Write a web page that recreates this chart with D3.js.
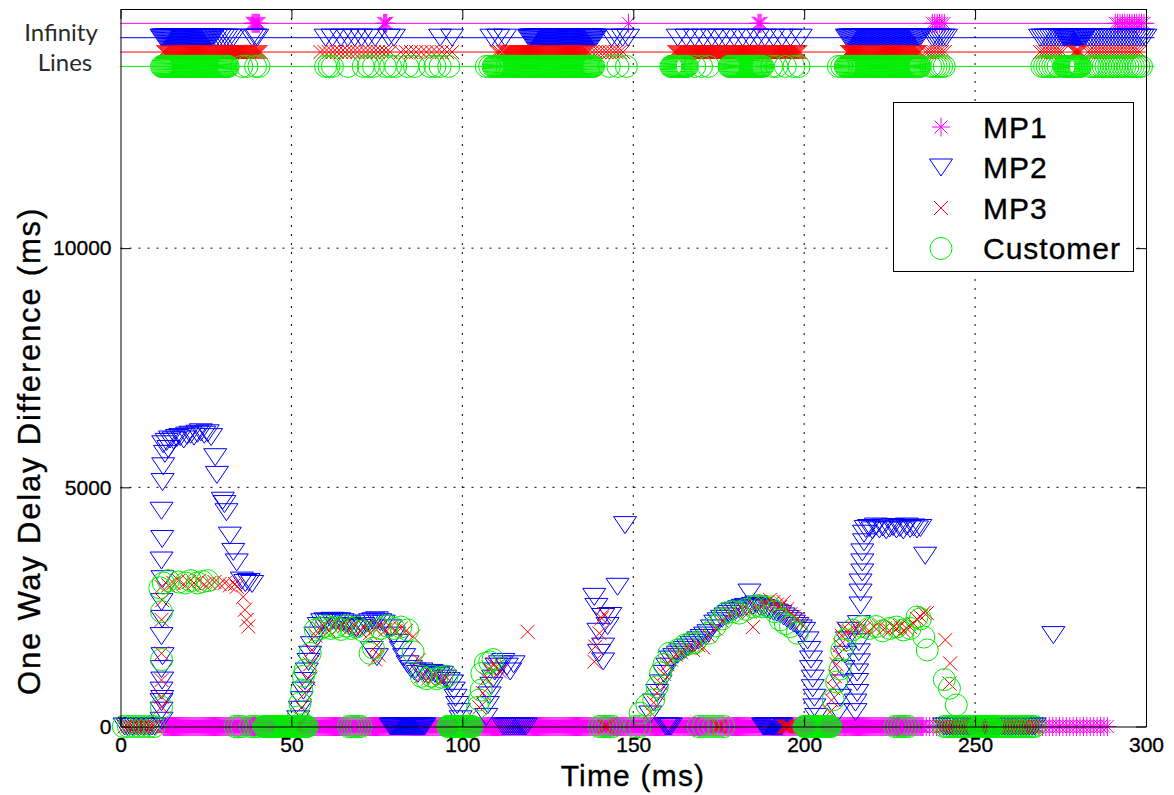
<!DOCTYPE html>
<meta charset="utf-8">
<head>
<style>
 body { margin: 0; background: #fff; }
 svg text { font-family: "Liberation Sans", Arial, sans-serif; fill: #000; }
 .heavy { stroke: #000; stroke-width: 0.35px; }
 .inf-label { font-family: Lato, "Open Sans", sans-serif; font-size: 24px; fill: #2a2a2a; }
 .grid line { stroke: #000; stroke-dasharray: 2,7; }
</style>
</head>
<body>
<div id="chart"></div>
</body>
<script src="https://d3js.org/d3.v7.min.js"></script>
<script>

 // ---- data ----
 const seriesNames = ["MP1", "MP2", "MP3", "Customer"];
 const seriesColors = ["#ff00ff", "#0000ff", "#ff0000", "#00ee00"];
 // where the lost (infinite) samples are drawn, one level per series
 const infinityLevels = [14700, 14400, 14100, 13800];
 const xTicks = [0, 50, 100, 150, 200, 250, 300];
 const yTicks = [0, 5000, 10000];

 // runs of samples: [start, end, sample step] in ms, or a single sample time
 const mp1InfRuns = [[38.5, 40.8, 0.3], [77, 78, 0.3], 148.6, [186.5, 187.5, 0.3], [237.5, 241.5, 0.7], [291, 299.5, 0.7]];
 const mp1ZeroRuns = [[12.5, 235, 0.3], [235.7, 289, 1]];
 const mp1Points = [];

 const mp2InfRuns = [[12, 27, 0.3], [28, 33, 1], 38.5, 39.5, 40,
     60, 62, 64.5, 66.5, 68.5, 70.5, 72.5, 74.5, 78.5, 80, 93.5, 97,
     108.5, 110.5, 112.5, [119.5, 139, 0.3], [143.7, 148.7, 1.6],
     163, 165.5, 168, 170.5, 173, 175, 177, 179.5, 182, 184, 186.5, 188.5, 191, 193.5, 196, 199,
     [212.5, 234, 0.35], [237.5, 241.7, 0.8], [269, 275.5, 0.8], [276, 282, 0.3], [283, 300, 0.8]];
 const mp2ZeroRuns = [[1.2, 10.5, 0.8], [79, 89, 0.3], [112, 119, 0.6], [159.5, 161, 0.5], [188, 193.5, 0.3], [241, 268, 0.8]];
 const mp2Points = [
     [12, 120], [12, 330], [12, 510], [12.2, 575], [12, 750], [12.2, 960], [12, 1200], [12.3, 1470], [12, 1890],
     [12.2, 2250], [12, 2600], [12.3, 3080], [12, 3470], [12.2, 3920], [12, 4510], [12.3, 5110], [12.5, 5440], [13, 5700], [14, 5800],
     [12.5, 5900], [13.5, 5950], [14.5, 6000], [15.5, 5980], [16.5, 6030], [17.5, 6050], [18.5, 6000], [19.5, 6080],
     [20.5, 6100], [21.5, 6060], [22.5, 6120], [23.5, 6150], [24.5, 6100], [25.5, 6130], [26.5, 6050],
     [27.7, 5630], [28.2, 5260], [29.9, 4720], [30.4, 4650], [31, 4480], [32, 3990], [33, 3650], [34, 3430],
     [35.5, 3050], [36.5, 3000], [37.5, 3020], [38.5, 2980],
     [52, 150], [52.5, 350], [53, 550], [53.5, 750], [54, 950], [54.5, 1150], [55, 1350], [55.5, 1500], [56, 1700], [57, 1900], [58, 2100],
     [59, 2180], [60, 2200], [61, 2170], [62, 2210], [63, 2190], [64, 2200], [65, 2180], [66, 2150], [67, 2100], [68, 2080],
     [69, 2050], [70, 2060], [71, 2100], [72, 2150], [73, 2180], [74, 2200], [75, 2220], [76, 2180], [77, 2150], [73.5, 1600], [75, 1450],
     [79, 2050], [80, 1900], [81, 1750], [82, 1600], [83, 1450], [84, 1300], [85, 1200], [86, 1150], [87, 1100], [88, 1150],
     [89, 1100], [90, 1080], [91, 1120], [92, 1100], [93, 1050], [94, 1080], [95, 1000], [96, 950], [97, 900], [97.5, 750],
     [98, 600], [98.5, 450], [99, 300], [99.5, 150],
     [107, 200], [107.5, 450], [108, 650], [108.5, 850], [109, 1000], [109.5, 1150], [110, 1250], [111, 1300], [112, 1350], [113, 1250], [114, 1150], [115, 1300],
     [138.6, 2710], [139.2, 2500], [139.8, 1980], [140, 1540], [141.2, 2290], [141.2, 1670], [141.2, 1360], [142.5, 2100], [143.3, 2310], [145.4, 2920], [147.6, 4210],
     [155, 250], [156, 500], [157, 700], [158, 900], [159, 1100], [160, 1250], [161, 1400], [162, 1450], [163, 1500], [164, 1550],
     [165, 1600], [166, 1650], [167, 1700], [168, 1750], [169, 1800], [170, 1850], [171, 1900], [172, 1950], [173, 2050], [174, 2150],
     [175, 2200], [176, 2250], [177, 2300], [178, 2350], [179, 2400], [180, 2420], [181, 2450], [182, 2480], [183, 2500], [184, 2800],
     [185, 2520], [186, 2550], [187, 2500], [188, 2480], [189, 2450], [190, 2420], [191, 2400], [192, 2380], [193, 2350], [194, 2300],
     [195, 2250], [196, 2200], [197, 2150], [198, 2100], [199, 2050], [200, 2000], [201, 1800], [201.5, 1600], [202, 1400], [202, 1200],
     [202.5, 1000], [202.5, 800], [203, 600], [203, 400], [203.5, 200],
     [210, 300], [210.5, 600], [211, 900], [211.5, 1200], [212, 1500], [212.5, 1800], [213, 2000],
     [215, 300], [215, 500], [215.5, 700], [215.5, 930], [215.5, 1130], [216, 1340], [216, 1550], [216, 1760], [216, 2140],
     [216.5, 2530], [216.5, 2800], [216.5, 3010], [217, 3220], [217, 3430], [217, 3640], [217.5, 3850], [217.5, 4030], [218, 4130],
     [219, 4150], [220, 4100], [221, 4180], [222, 4120], [223, 4160], [224, 4100], [225, 4140], [226, 4170], [227, 4120],
     [228, 4150], [229, 4100], [230, 4180], [231, 4130], [232, 4160], [233, 4120], [234, 4150], [235.4, 3570],
     [272.9, 1910]
 ];

 const mp3InfRuns = [[12.5, 41, 0.3], [58.5, 80, 1.2], [82, 97, 1.5], [110, 111, 0.5], [112, 137, 0.3], [138, 147.5, 1],
     [162, 199, 0.3], [212.5, 234, 0.3], [235.5, 241.5, 0.8], [269, 275.5, 0.8], [279, 281, 0.3], [283, 298.4, 0.8]];
 const mp3ZeroRuns = [[1.2, 10.5, 0.8], [51, 52, 0.5], [141.5, 142.5, 0.5], [174.5, 175.5, 0.5], [194, 196, 0.3], [240, 268, 0.8]];
 const mp3Points = [
     [12, 410], [12, 620], [12, 970], [12, 1530], [12, 2230], [12.2, 2640], [12, 2920],
     [14, 2950], [15.5, 3000], [17, 3050], [18.5, 2980], [20, 3020], [21.5, 3000], [23, 3050], [24.5, 2970], [26, 3000],
     [27.5, 3020], [29, 2980], [30.5, 3000], [32, 2950], [33.5, 2980], [34, 2920], [35.9, 2710], [36.4, 2440], [36.9, 2230], [37.4, 2090],
     [53, 400], [54, 700], [55, 1000], [55.5, 1300], [56, 1600], [57, 1900],
     [58, 2050], [59.5, 2100], [61, 2000], [62.5, 2150], [64, 2080], [65.5, 2100], [67, 2050], [68.5, 2120], [70, 2000],
     [71.5, 2080], [73, 1950], [74.5, 2050], [76, 2100], [77.5, 2020], [79, 2080], [80.5, 2000], [82, 2050], [83.5, 2000],
     [74.5, 1400], [75, 1700], [75.5, 1500], [85.6, 1880], [87.2, 1390],
     [88, 1050], [90, 1000], [92, 1050], [94, 980], [95.5, 1020],
     [105, 400], [106, 700], [107, 1000], [108, 1200], [109, 1300], [110, 1250], [111, 1150],
     [119.1, 1980],
     [138.6, 1355], [138.9, 1670], [140.1, 1950], [140.8, 2260], [141.5, 2350],
     [155, 300], [156, 500], [157, 700], [158, 900], [159, 1100], [160, 1300], [161, 1400], [162.5, 1500], [164, 1550],
     [166, 1650], [167.5, 1600], [169, 1700], [170.5, 1650], [172, 1900], [174, 2050], [176, 2200], [178, 2350], [180, 2400],
     [182, 2450], [184, 2400], [185, 2080], [186, 2500], [188, 2550], [189, 2600], [190, 2650], [191, 2600], [192, 2550],
     [193, 2500], [194, 2600], [195, 2450], [196, 2350], [197, 2300], [198, 2250], [199, 2150],
     [207.5, 300], [208, 550], [208.5, 800], [209, 1050], [209.5, 1300], [210, 1500], [210.5, 1700], [211, 1900], [211.5, 2050],
     [213, 2000], [214.5, 2050], [216, 2100], [217.5, 2050], [219, 2000], [220.5, 2080], [222, 2100], [223.5, 2050], [225, 2000],
     [226, 2080], [227, 2050], [228, 2100], [229, 2000], [230, 2050], [231, 2080], [232, 2150], [233, 2250], [234, 2300],
     [235, 2380], [235.9, 2370], [241.3, 1810], [242.5, 900], [242.7, 1320]
 ];

 const custInfRuns = [[12, 31.6, 0.3], 35.5, 37, 39.5, 40.5,
     60, 61, 62, 66.5, 71, 72.5, 74, 77.5, 79, 80.5, 84, 86, 90.5, 92, 93.5, 96,
     107, 108, [109, 138.5, 0.3], 143, 145.5, 148,
     [161, 166, 0.3], 168, 170, 172, [178, 188, 0.3], 190.5, 192, 194.5, 197, 198.5,
     210, 211, [212, 234, 0.3], [237, 241.5, 0.8], [269.5, 275, 0.8], [276, 281, 0.3], [283.5, 299, 0.8]];
 const custZeroRuns = [[0.8, 11, 1.5], 33.5, 34.5, 35.5, 38, 39, 40, [42, 54.6, 0.3], [66.7, 71.1, 0.9], [95.7, 103, 0.3],
     140, 141, 142, 143, 144, 150.5, 152, 169, 170.5, 172, 173.5, 175, 176.5, [200, 208, 0.3],
     226.5, 227.5, 228.5, 229.5, 230.5, [241, 268, 0.8], [251, 255, 0.3]];
 const custPoints = [
     [12, 400], [12, 1400], [12, 2400], [11.5, 2900], [12.5, 3000], [14, 3050], [17, 3020], [19, 3000], [20.5, 3050],
     [22.5, 3000], [24, 3030], [25.5, 3050],
     [52, 200], [52.5, 485], [53, 760], [53.5, 1050], [54, 1180], [55.5, 1530], [57, 2020], [58.5, 2050], [60, 2100],
     [61.5, 2050], [63, 2080], [64.5, 2030], [66, 2100], [67.5, 2050], [69, 2080], [71, 2000], [73, 1530], [74, 1640],
     [76, 2050], [78, 2100], [80, 2050], [82, 2080], [84, 2020], [85.6, 1560], [88, 1050], [89.5, 1000], [91, 1050],
     [92.5, 1000], [94, 1030], [95.5, 1050], [104.5, 400], [105, 555], [105.5, 760], [105.7, 1110], [106.7, 1320], [108, 1350], [109, 1400],
     [152, 280], [154, 450], [156, 560], [157, 830], [158, 1120], [159, 1300], [160.5, 1530], [163, 1600], [165, 1700],
     [166.7, 1740], [168, 1750], [172, 1950], [174, 2100], [176, 2250], [177, 2370], [179, 2400], [181, 2370], [183, 2450],
     [185, 2500], [186.5, 2530], [188, 2500], [190, 2500], [191.5, 2400], [193, 2230], [194.5, 2150], [196, 2090], [198, 1950],
     [208.5, 560], [209.5, 930], [210.5, 1200], [211, 1600], [212, 1810], [214, 2020], [217, 2090], [219, 2050], [221, 2090],
     [223, 2000], [225, 2050], [227, 2080], [229, 2020], [231, 2050], [233, 2290], [234, 2250], [235, 1870], [236, 1600],
     [241, 980], [242.5, 800], [244.5, 450]
 ];

 // ---- drawing ----
 const width = 1174, height = 795;

 const x = d3.scaleLinear().domain([0, 300]).range([120.5, 1146]);
 const y = d3.scaleLinear().domain([0, 15000]).range([726.5, 9]);

 const markerPaths = {
     star: "M-9,0H9M0,-9.5V9.5M-6.5,-6.5L6.5,6.5M-6.5,6.5L6.5,-6.5",
     triangle: "M-11.5,-8.5H11.5L0,8.5Z",
     cross: "M-7,-7L7,7M-7,7L7,-7"
 };
 const shapes = ["star", "triangle", "cross", "circle"];

 function sampleTimes(runs) {
     return runs.flatMap(r => Array.isArray(r) ? d3.range(r[0], r[1] + 1e-6, r[2]) : [r]);
 }

 const seriesData = [
     [mp1InfRuns, mp1ZeroRuns, mp1Points],
     [mp2InfRuns, mp2ZeroRuns, mp2Points],
     [mp3InfRuns, mp3ZeroRuns, mp3Points],
     [custInfRuns, custZeroRuns, custPoints]
 ].map(([inf, zero, pts], i) => ({
     name: seriesNames[i],
     color: seriesColors[i],
     shape: shapes[i],
     level: infinityLevels[i],
     values: sampleTimes(zero).map(t => [t, 0])
         .concat(pts)
         .concat(sampleTimes(inf).map(t => [t, Infinity]))
 }));

 const svg = d3.select("#chart").append("svg")
     .attr("width", width)
     .attr("height", height);

 // infinity lines
 svg.append("g")
    .selectAll("line")
    .data(seriesData)
    .join("line")
    .attr("x1", x(0))
    .attr("x2", (d, i) => i == 2 ? x(300) : x(302.5))
    .attr("y1", d => y(d.level))
    .attr("y2", d => y(d.level))
    .attr("stroke", d => d.color)
    .attr("stroke-width", 1);

 function drawMarker(sel, s) {
     if (s.shape == "circle") {
         sel.append("circle").attr("r", 11)
            .attr("fill", "none").attr("stroke", s.color);
     } else {
         sel.append("path").attr("d", markerPaths[s.shape])
            .attr("fill", "none").attr("stroke", s.color);
     }
 }

 seriesData.forEach(s => {
     const g = svg.append("g").attr("class", "series");
     g.selectAll("g")
      .data(s.values)
      .join("g")
      .attr("transform", d => `translate(${x(d[0])},${d[1] === Infinity ? y(s.level) : y(d[1])})`)
      .each(function() { drawMarker(d3.select(this), s); });
 });

 // grid
 const grid = svg.append("g").attr("class", "grid");
 grid.selectAll(".gx")
     .data(xTicks.slice(1, -1))
     .join("line")
     .attr("x1", d => x(d)).attr("x2", d => x(d))
     .attr("y1", y(15000)).attr("y2", y(0));
 grid.selectAll(".gy")
     .data(yTicks.slice(1))
     .join("line")
     .attr("x1", x(0)).attr("x2", x(300))
     .attr("y1", d => y(d)).attr("y2", d => y(d));

 // axes, ticks inside like the original
 svg.append("g")
    .attr("transform", `translate(0,${y(0)})`)
    .call(d3.axisBottom(x).tickValues(xTicks).tickSizeInner(-10).tickSizeOuter(0).tickPadding(11));
 svg.append("g")
    .attr("transform", `translate(${x(0)},0)`)
    .call(d3.axisLeft(y).tickValues(yTicks).tickSizeInner(-10).tickSizeOuter(0).tickPadding(9).tickFormat(d3.format("d")));
 svg.append("g")
    .attr("transform", `translate(0,${y(15000)})`)
    .call(d3.axisTop(x).tickValues(xTicks).tickSizeInner(-10).tickSizeOuter(0).tickFormat(""));
 svg.append("g")
    .attr("transform", `translate(${x(300)},0)`)
    .call(d3.axisRight(y).tickValues(yTicks).tickSizeInner(-10).tickSizeOuter(0).tickFormat(""));

 svg.selectAll(".domain, .tick line").attr("stroke", "#000");
 svg.selectAll(".tick text")
    .attr("class", "heavy")
    .style("font-size", "21px")
    .attr("fill", "#000");

 // axis titles
 svg.append("text")
    .attr("class", "heavy")
    .attr("x", 633).attr("y", 786)
    .attr("text-anchor", "middle")
    .style("font-size", "30px")
    .style("letter-spacing", "1.2px")
    .text("Time (ms)");
 svg.append("text")
    .attr("class", "heavy")
    .attr("transform", "translate(40,451) rotate(-90)")
    .attr("text-anchor", "middle")
    .style("font-size", "31px")
    .style("letter-spacing", "1.8px")
    .text("One Way Delay Difference (ms)");

 // infinity label
 svg.append("text").attr("class", "inf-label")
    .attr("x", 61).attr("y", 41).attr("text-anchor", "middle").text("Infinity");
 svg.append("text").attr("class", "inf-label")
    .attr("x", 65).attr("y", 71).attr("text-anchor", "middle").text("Lines");

 // legend
 const legend = svg.append("g");
 legend.append("rect")
       .attr("x", 893.5).attr("y", 102.5)
       .attr("width", 240).attr("height", 169)
       .attr("fill", "#fff").attr("stroke", "#000");
 const rows = legend.selectAll(".row")
       .data(seriesData)
       .join("g")
       .attr("transform", (d, i) => `translate(941,${127 + i * 40.5})`);
 rows.each(function(d) { drawMarker(d3.select(this), d); });
 rows.append("text")
     .attr("class", "heavy")
     .attr("x", 42).attr("dy", "0.36em")
     .style("font-size", "30px")
     .style("letter-spacing", "1px")
     .text(d => d.name);

</script>
